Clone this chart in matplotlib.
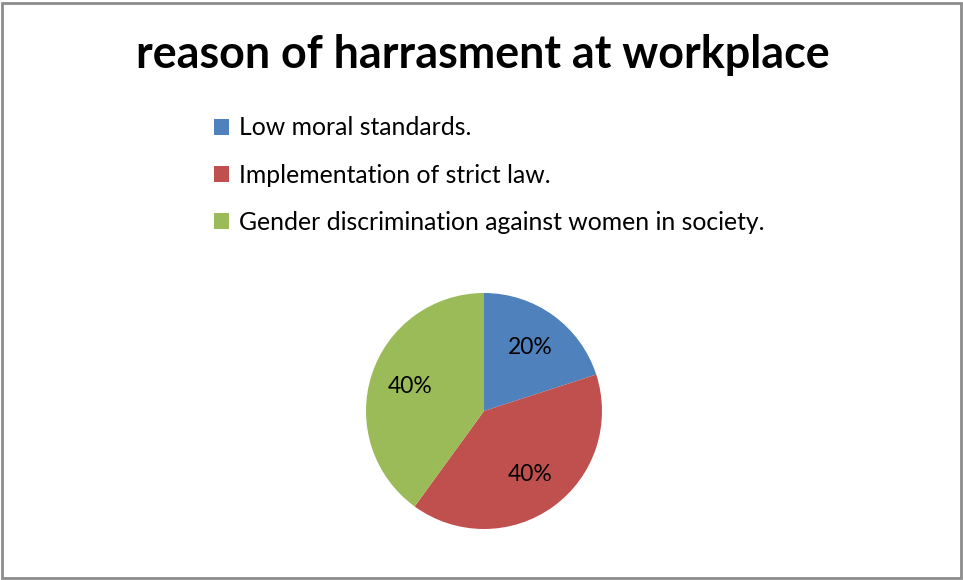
import matplotlib
matplotlib.use("Agg")
import matplotlib.pyplot as plt
from matplotlib.patches import Rectangle

plt.rcParams['font.family'] = ['Lato', 'DejaVu Sans']

# reasons and their shares
reasons = ['Low moral standards.',
           'Implementation of strict law.',
           'Gender discrimination against women in society.']
shares = [20, 40, 40]
colors = ['#4F81BD', '#C0504D', '#9BBB59']

fig = plt.figure(figsize=(9.63, 5.80), dpi=100)

# grey frame round the chart area
fig.patches.append(Rectangle((2 / 963, 2 / 580), 959 / 963, 575 / 580,
                             transform=fig.transFigure, fill=False,
                             edgecolor='#8c8c8c', linewidth=2))

fig.text(483 / 963, 1 - 55 / 580, 'reason of harrasment at workplace',
         ha='center', va='center', fontsize=32.3, fontweight='bold')

ax = fig.add_axes([366 / 963, 51 / 580, 236 / 963, 236 / 580])
wedges, texts, autotexts = ax.pie(shares, colors=colors, startangle=90,
                                  counterclock=False, autopct='%1.0f%%',
                                  pctdistance=0.66,
                                  wedgeprops=dict(linewidth=0),
                                  textprops=dict(fontsize=16.5, color='black'))
ax.set_xlim(-1, 1)
ax.set_ylim(-1, 1)
ax.set_aspect('equal')

fig.legend(wedges, reasons, loc='upper left',
           bbox_to_anchor=(204 / 963, 1 - 106.5 / 580),
           frameon=False, fontsize=17.8, handlelength=0.6, handleheight=0.6,
           handletextpad=0.4, labelspacing=0.98, borderaxespad=0)

fig.savefig('out.png', dpi=100)
